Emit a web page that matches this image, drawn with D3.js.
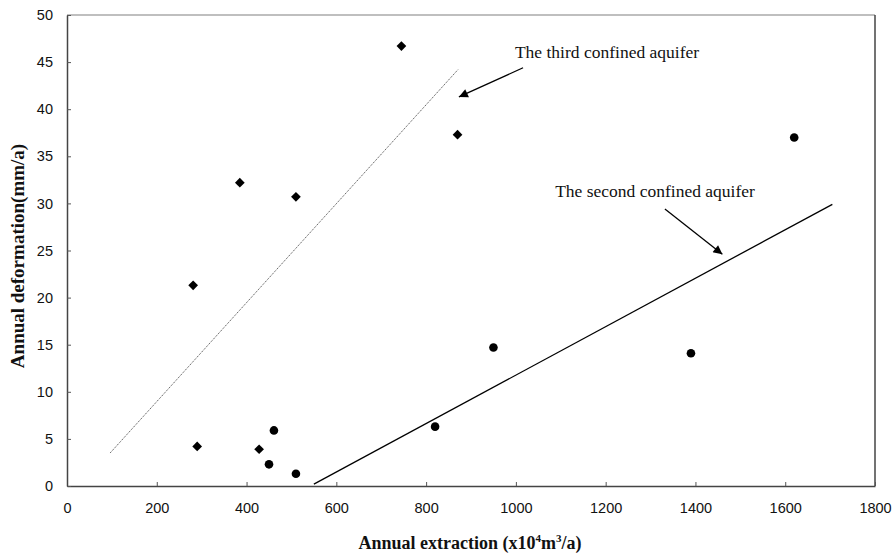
<!DOCTYPE html>
<html><head><meta charset="utf-8">
<script src="https://cdn.jsdelivr.net/npm/d3@7/dist/d3.min.js"></script>
<style>body{margin:0;background:#fff}svg{display:block}</style>
</head><body>
<script>
// Data
const thirdX = [281, 290, 385, 428, 510, 745, 870];
const thirdY = [21.3, 4.2, 32.2, 3.9, 30.7, 46.7, 37.3];
const secondX = [450, 461, 510, 820, 950, 1390, 1620];
const secondY = [2.3, 5.9, 1.3, 6.3, 14.7, 14.1, 37.0];
const thirdFitX = [96, 871];
const thirdFitY = [3.5, 44.2];
const secondFitX = [550, 1705];
const secondFitY = [0.2, 29.9];
const xTicks = [0, 200, 400, 600, 800, 1000, 1200, 1400, 1600, 1800];
const yTicks = [0, 5, 10, 15, 20, 25, 30, 35, 40, 45, 50];
const annotations = [
  {text: "The third confined aquifer", tx: 1203, ty: 45.4, from: [1016, 44.4], to: [873, 41.3]},
  {text: "The second confined aquifer", tx: 1310, ty: 30.7, from: [1332, 29.4], to: [1460, 24.6]}
];

const W = 892, H = 556;
const m = {l: 67, r: 875, t: 15, b: 486};
const svg = d3.select("body").append("svg").attr("width", W).attr("height", H);
const x = d3.scaleLinear().domain([0, 1800]).range([m.l, m.r]);
const y = d3.scaleLinear().domain([0, 50]).range([m.b, m.t]);

svg.append("defs").append("marker").attr("id", "ah")
  .attr("viewBox", "0 0 10 10").attr("refX", 10).attr("refY", 5)
  .attr("markerWidth", 11).attr("markerHeight", 9).attr("markerUnits", "userSpaceOnUse")
  .attr("orient", "auto")
  .append("path").attr("d", "M0,0 L10,5 L0,10 Z").attr("fill", "#000");

// frame
svg.append("line").attr("x1", m.l).attr("x2", m.r).attr("y1", m.t).attr("y2", m.t)
  .attr("stroke", "#aaa").attr("stroke-width", 1.5);
svg.append("line").attr("x1", m.r).attr("x2", m.r).attr("y1", m.t).attr("y2", m.b)
  .attr("stroke", "#444").attr("stroke-width", 1.5);

// axes
const xAxis = svg.append("g").attr("transform", `translate(0,${m.b})`)
  .call(d3.axisBottom(x).tickValues(xTicks).tickFormat(d3.format("d"))
    .tickSizeInner(-4).tickSizeOuter(0).tickPadding(17));
const yAxis = svg.append("g").attr("transform", `translate(${m.l},0)`)
  .call(d3.axisLeft(y).tickValues(yTicks).tickFormat(d3.format("d"))
    .tickSizeInner(-4).tickSizeOuter(0).tickPadding(14));
[xAxis, yAxis].forEach(a => {
  a.select(".domain").attr("stroke", "#444").attr("stroke-width", 1.5);
  a.selectAll(".tick line").attr("stroke", "#555");
  a.selectAll("text").attr("font-family", "Liberation Sans, Arial, sans-serif")
    .attr("font-size", 14.5).attr("fill", "#111");
});

// fit lines
svg.append("line").attr("x1", x(thirdFitX[0])).attr("y1", y(thirdFitY[0]))
  .attr("x2", x(thirdFitX[1])).attr("y2", y(thirdFitY[1]))
  .attr("stroke", "#555").attr("stroke-width", 1).attr("stroke-dasharray", "1.2,1");
svg.append("line").attr("x1", x(secondFitX[0])).attr("y1", y(secondFitY[0]))
  .attr("x2", x(secondFitX[1])).attr("y2", y(secondFitY[1]))
  .attr("stroke", "#000").attr("stroke-width", 1.3);

// points
svg.append("g").selectAll("path").data(thirdX.map((v, i) => [v, thirdY[i]])).join("path")
  .attr("d", d3.symbol(d3.symbolDiamond2, 60))
  .attr("transform", d => `translate(${x(d[0])},${y(d[1])})`).attr("fill", "#000");
svg.append("g").selectAll("circle").data(secondX.map((v, i) => [v, secondY[i]])).join("circle")
  .attr("cx", d => x(d[0])).attr("cy", d => y(d[1])).attr("r", 4.3).attr("fill", "#000");

// annotations
annotations.forEach(a => {
  svg.append("text").attr("x", x(a.tx)).attr("y", y(a.ty)).attr("text-anchor", "middle")
    .attr("font-family", "Liberation Serif, Times New Roman, serif").attr("font-size", 17.5)
    .attr("fill", "#111").text(a.text);
  svg.append("line").attr("x1", x(a.from[0])).attr("y1", y(a.from[1]))
    .attr("x2", x(a.to[0])).attr("y2", y(a.to[1]))
    .attr("stroke", "#000").attr("stroke-width", 1.3).attr("marker-end", "url(#ah)");
});

// axis titles
const xt = svg.append("text").attr("x", 470).attr("y", 549).attr("text-anchor", "middle")
  .attr("font-family", "Liberation Serif, Times New Roman, serif").attr("font-weight", "bold")
  .attr("font-size", 18).attr("fill", "#111");
xt.append("tspan").text("Annual extraction (x10");
xt.append("tspan").attr("font-size", 11).attr("dy", -7).text("4");
xt.append("tspan").attr("dy", 7).text("m");
xt.append("tspan").attr("font-size", 11).attr("dy", -7).text("3");
xt.append("tspan").attr("dy", 7).text("/a)");

svg.append("text").attr("transform", "translate(24,256) rotate(-90)").attr("text-anchor", "middle")
  .attr("font-family", "Liberation Serif, Times New Roman, serif").attr("font-weight", "bold")
  .attr("font-size", 19).attr("fill", "#111").text("Annual deformation(mm/a)");
</script>
</body></html>
